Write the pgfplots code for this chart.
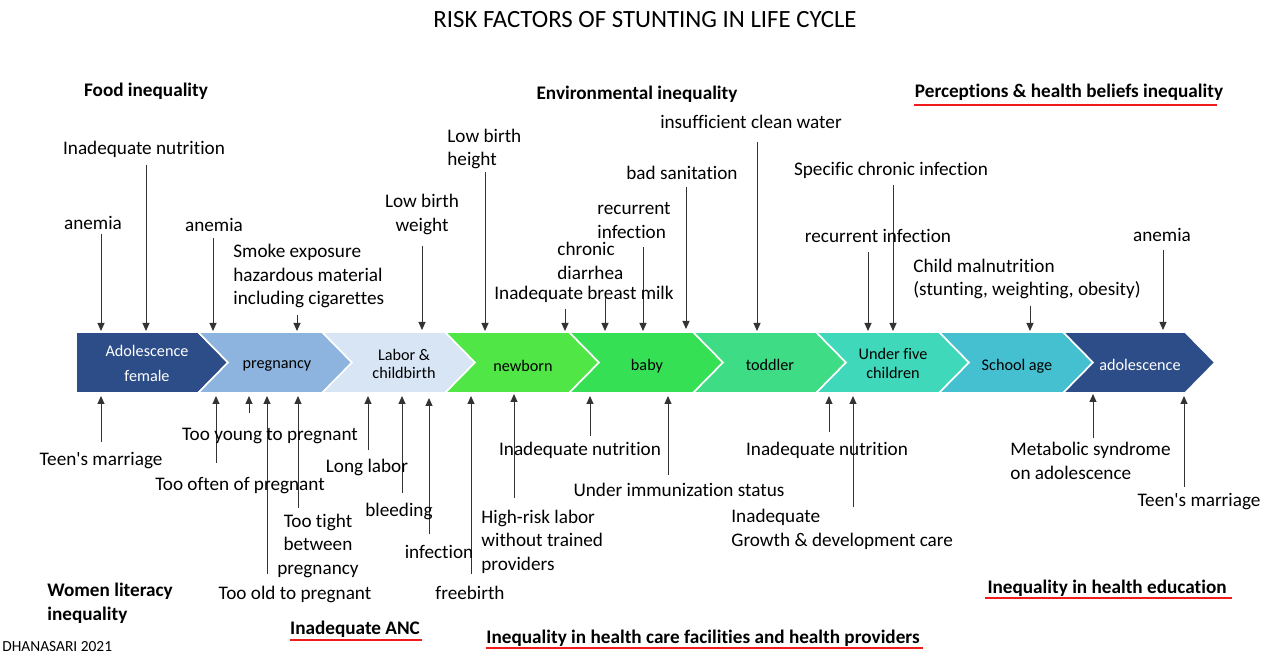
\documentclass[border=0pt]{standalone}
\usepackage{pgfplots}
\pgfplotsset{compat=1.18}
\usepackage{fontspec}
\setmainfont{Carlito}[Ligatures={NoCommon}]
\usetikzlibrary{arrows.meta}
\definecolor{c1}{HTML}{2C4D88}
\definecolor{c2}{HTML}{8DB4DE}
\definecolor{c3}{HTML}{D7E5F4}
\definecolor{c4}{HTML}{50E646}
\definecolor{c5}{HTML}{36E055}
\definecolor{c6}{HTML}{3EDC85}
\definecolor{c7}{HTML}{40D8BA}
\definecolor{c8}{HTML}{45C0D0}
\definecolor{c9}{HTML}{2C4D88}
\definecolor{ul}{HTML}{F21B1B}
\definecolor{ln}{HTML}{333333}
\tikzset{
  lab/.style={font=\fontsize{9.6}{11.8}\selectfont, inner sep=0pt, text=black, yshift=-0.8pt},
  bl/.style={font=\fontsize{9.6}{11.8}\selectfont\bfseries, inner sep=0pt, text=black, yshift=-0.8pt},
  chev/.style={font=\fontsize{8.1}{9.4}\selectfont, inner sep=0pt, align=center, yshift=-0.5pt},
  arr/.style={ln, line width=0.5pt, -{Triangle[length=4pt,width=3.5pt]}},
  chv/.style={draw=white, line width=0.8pt},
  und/.style={ul, line width=1.1pt},
}
\begin{document}
\begin{tikzpicture}
\begin{axis}[scale only axis, width=634.5pt, height=328.5pt,
  xmin=0, xmax=1269, ymin=0, ymax=657, y dir=reverse,
  hide axis, clip=false,
]
\addplot[draw=none] coordinates {(0,0) (1269,657)};
% chevrons
\addplot[chv, fill=c1] coordinates {(76,332) (198,332) (228,362.5) (198,393) (76,393) (76,332)};
\addplot[chv, fill=c2] coordinates {(198,332) (322,332) (352,362.5) (322,393) (198,393) (228,362.5) (198,332)};
\addplot[chv, fill=c3] coordinates {(322,332) (445,332) (475,362.5) (445,393) (322,393) (352,362.5) (322,332)};
\addplot[chv, fill=c4] coordinates {(445,332) (569,332) (599,362.5) (569,393) (445,393) (475,362.5) (445,332)};
\addplot[chv, fill=c5] coordinates {(569,332) (693,332) (723,362.5) (693,393) (569,393) (599,362.5) (569,332)};
\addplot[chv, fill=c6] coordinates {(693,332) (816,332) (846,362.5) (816,393) (693,393) (723,362.5) (693,332)};
\addplot[chv, fill=c7] coordinates {(816,332) (939,332) (969,362.5) (939,393) (816,393) (846,362.5) (816,332)};
\addplot[chv, fill=c8] coordinates {(939,332) (1063,332) (1093,362.5) (1063,393) (939,393) (969,362.5) (939,332)};
\addplot[chv, fill=c9] coordinates {(1063,332) (1185,332) (1215,362.5) (1185,393) (1063,393) (1093,362.5) (1063,332)};
% chevron labels
\node[chev, text=white, font=\fontsize{8.1}{12.5}\selectfont] at (axis cs:147,362.5) {Adolescence\\female};
\node[chev] at (axis cs:277,365) {pregnancy};
\node[chev] at (axis cs:404,363) {Labor \&\\childbirth};
\node[chev] at (axis cs:523,365) {newborn};
\node[chev] at (axis cs:647,365) {baby};
\node[chev] at (axis cs:770,364) {toddler};
\node[chev] at (axis cs:893,362.5) {Under five\\children};
\node[chev] at (axis cs:1017,365) {School age};
\node[chev, text=white] at (axis cs:1140,364) {adolescence};
% top arrows
\addplot[arr] coordinates {(101,234) (101,331)};
\addplot[arr] coordinates {(146,165) (146,331)};
\addplot[arr] coordinates {(213,238) (213,331)};
\addplot[arr] coordinates {(297,315) (297,331)};
\addplot[arr] coordinates {(422,246) (422,330)};
\addplot[arr] coordinates {(485,172) (485,331)};
\addplot[arr] coordinates {(565,309) (565,331)};
\addplot[arr] coordinates {(605,293) (605,331)};
\addplot[arr] coordinates {(643,247) (643,331)};
\addplot[arr] coordinates {(686,187) (686,329)};
\addplot[arr] coordinates {(757,142) (757,331)};
\addplot[arr] coordinates {(868,252) (868,331)};
\addplot[arr] coordinates {(893,185) (893,331)};
\addplot[arr] coordinates {(1030,306) (1030,331)};
\addplot[arr] coordinates {(1163,250) (1163,330)};
% bottom arrows
\addplot[arr] coordinates {(101,442) (101,396)};
\addplot[arr] coordinates {(216,463) (216,396)};
\addplot[arr] coordinates {(249,413) (249,396)};
\addplot[arr] coordinates {(267,574) (267,396)};
\addplot[arr] coordinates {(298,508) (298,396)};
\addplot[arr] coordinates {(368,450) (368,396)};
\addplot[arr] coordinates {(402,493) (402,396)};
\addplot[arr] coordinates {(429,534) (429,398)};
\addplot[arr] coordinates {(471,574) (471,396)};
\addplot[arr] coordinates {(514,498) (514,394)};
\addplot[arr] coordinates {(590,436) (590,396)};
\addplot[arr] coordinates {(668,475) (668,396)};
\addplot[arr] coordinates {(829,432) (829,396)};
\addplot[arr] coordinates {(853,507) (853,396)};
\addplot[arr] coordinates {(1093,438) (1093,394)};
\addplot[arr] coordinates {(1184,487) (1184,396)};
% underlines
\addplot[und] coordinates {(914,105) (1217,105)};
\addplot[und] coordinates {(290,640) (422,640)};
\addplot[und] coordinates {(486,648) (923,648)};
\addplot[und] coordinates {(985,598) (1232,598)};
% title
\node[lab, font=\fontsize{12.4}{14}\selectfont] at (axis cs:645,18) {RISK FACTORS OF STUNTING IN LIFE CYCLE};
% headings
\node[bl] at (axis cs:146,90) {Food inequality};
\node[bl] at (axis cs:637,93) {Environmental inequality};
\node[bl] at (axis cs:1069,91) {Perceptions \& health beliefs inequality};
\node[bl, anchor=west, align=left] at (axis cs:47,601.5) {Women literacy\\inequality};
\node[bl] at (axis cs:355,628) {Inadequate ANC};
\node[bl] at (axis cs:703,637) {Inequality in health care facilities and health providers};
\node[bl] at (axis cs:1107,587) {Inequality in health education};
\node[inner sep=0pt, font=\fontsize{7.7}{9}\selectfont, anchor=west] at (axis cs:2,647) {DHANASARI 2021};
% top labels
\node[lab] at (axis cs:144,148) {Inadequate nutrition};
\node[lab] at (axis cs:93,221) {anemia};
\node[lab] at (axis cs:214,223) {anemia};
\node[lab, anchor=west, align=left] at (axis cs:233,274.5) {Smoke exposure\\hazardous material\\including cigarettes};
\node[lab, align=center] at (axis cs:422,213) {Low birth\\weight};
\node[lab, anchor=west, align=left] at (axis cs:447,147.5) {Low birth\\height};
\node[lab] at (axis cs:751,120) {insufficient clean water};
\node[lab] at (axis cs:682,171) {bad sanitation};
\node[lab, anchor=west, align=left] at (axis cs:597,219) {recurrent\\infection};
\node[lab, anchor=west, align=left] at (axis cs:557,259.5) {chronic\\diarrhea};
\node[lab] at (axis cs:584,293) {Inadequate breast milk};
\node[lab] at (axis cs:891,169) {Specific chronic infection};
\node[lab] at (axis cs:878,234) {recurrent infection};
\node[lab] at (axis cs:1162,233) {anemia};
\node[lab, anchor=west, align=left] at (axis cs:913,277.5) {Child malnutrition\\(stunting, weighting, obesity)};
% bottom labels
\node[lab] at (axis cs:270,434) {Too young to pregnant};
\node[lab] at (axis cs:101,459) {Teen\textquotesingle s marriage};
\node[lab] at (axis cs:240,484) {Too often of pregnant};
\node[lab] at (axis cs:367,466) {Long labor};
\node[lab] at (axis cs:399,510) {bleeding};
\node[lab, align=center] at (axis cs:318,544) {Too tight\\between\\pregnancy};
\node[lab] at (axis cs:439,550) {infection};
\node[lab] at (axis cs:295,593) {Too old to pregnant};
\node[lab] at (axis cs:470,591) {freebirth};
\node[lab] at (axis cs:580,449) {Inadequate nutrition};
\node[lab, anchor=west, align=left] at (axis cs:481,540) {High-risk labor\\without trained\\providers};
\node[lab] at (axis cs:679,488) {Under immunization status};
\node[lab] at (axis cs:827,449) {Inadequate nutrition};
\node[lab, anchor=west, align=left] at (axis cs:731,528) {Inadequate\\Growth \& development care};
\node[lab, anchor=west, align=left] at (axis cs:1010,459.5) {Metabolic syndrome\\on adolescence};
\node[lab] at (axis cs:1199,500) {Teen\textquotesingle s marriage};
\end{axis}
\end{tikzpicture}
\end{document}
